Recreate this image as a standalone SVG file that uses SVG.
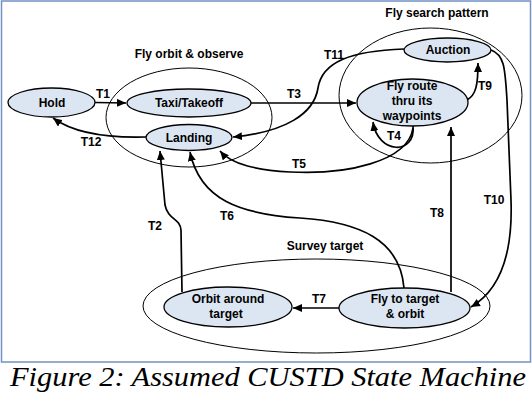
<svg xmlns="http://www.w3.org/2000/svg" width="532" height="400" viewBox="0 0 532 400">
<style>
.st{fill:#dce6f2;stroke:#000;stroke-width:1.3}
.grp{fill:none;stroke:#000;stroke-width:1}
.lbl{font-family:"Liberation Sans",Arial,sans-serif;font-weight:bold;font-size:12px;fill:#000;text-anchor:middle}
.c{fill:none;stroke:#000;stroke-width:1.7;marker-end:url(#ah)}
</style>
<defs>
<marker id="ah" markerUnits="userSpaceOnUse" markerWidth="10" markerHeight="8" refX="9" refY="4" orient="auto">
<path d="M0,0 L9,4 L0,8 Z" fill="#000"/>
</marker>
</defs>
<rect x="1.5" y="1" width="529" height="361" fill="#fff" stroke="#7391c3" stroke-width="1.5"/>

<g id="group-orbit">
<ellipse class="grp" cx="189" cy="117.5" rx="83" ry="49.5"/>
<text class="lbl" x="189" y="58">Fly orbit &amp; observe</text>
</g>
<g id="group-search">
<ellipse class="grp" cx="430.5" cy="95.5" rx="91.5" ry="67.5"/>
<text class="lbl" x="437" y="17">Fly search pattern</text>
</g>
<g id="group-survey">
<ellipse class="grp" cx="316.5" cy="306" rx="173.5" ry="47"/>
<text class="lbl" x="325" y="250">Survey target</text>
</g>

<g id="connectors">
<path class="c" d="M95,102.5 L126,103"/>
<path class="c" d="M251,103 L356,103"/>
<path class="c" d="M146,137 C110,138 75,134 53,118"/>
<path class="c" d="M404,49 C350,51 322,62 318,88 C314,114 285,132 233,137"/>
<path class="c" d="M413,126 C416,155 378,155 373,122"/>
<path class="c" d="M413,128 C408,162 345,175 290,172 C258,170 232,165 220,151"/>
<path class="c" d="M467,100 C476,95 478,85 478,63"/>
<path class="c" d="M491,50 C505,55 505,70 507,100 L511,200 C513,255 500,290 471,307"/>
<path class="c" d="M451,292 L451,127"/>
<path class="c" d="M339,308 L293,308"/>
<path class="c" d="M404,288 C400,240 360,222 300,218 C240,214 200,200 190,152"/>
<path class="c" d="M182,292 L181,230 C180,218 168,220 165,205 L160,151"/>
<text class="lbl" x="103" y="98">T1</text>
<text class="lbl" x="294" y="98">T3</text>
<text class="lbl" x="91" y="146">T12</text>
<text class="lbl" x="334" y="59">T11</text>
<text class="lbl" x="394" y="140">T4</text>
<text class="lbl" x="299" y="168">T5</text>
<text class="lbl" x="485" y="90">T9</text>
<text class="lbl" x="494" y="204">T10</text>
<text class="lbl" x="437" y="217">T8</text>
<text class="lbl" x="319" y="303">T7</text>
<text class="lbl" x="227" y="220">T6</text>
<text class="lbl" x="155" y="230">T2</text>
</g>

<g id="hold">
<ellipse class="st" cx="51.5" cy="102.5" rx="43.5" ry="14.5"/>
<text class="lbl" x="52" y="107">Hold</text>
</g>
<g id="taxi">
<ellipse class="st" cx="189" cy="103" rx="62" ry="14"/>
<text class="lbl" x="189" y="107">Taxi/Takeoff</text>
</g>
<g id="landing">
<ellipse class="st" cx="189" cy="137.5" rx="43" ry="13"/>
<text class="lbl" x="189" y="142">Landing</text>
</g>
<g id="auction">
<ellipse class="st" cx="447.5" cy="50" rx="43.5" ry="12"/>
<text class="lbl" x="448" y="54">Auction</text>
</g>
<g id="flyroute">
<ellipse class="st" cx="412.5" cy="102.5" rx="55.5" ry="23.5"/>
<text class="lbl" x="412" y="90">Fly route</text>
<text class="lbl" x="412" y="105">thru its</text>
<text class="lbl" x="412" y="120">waypoints</text>
</g>
<g id="orbit">
<ellipse class="st" cx="228" cy="307" rx="64" ry="20"/>
<text class="lbl" x="228" y="303">Orbit around</text>
<text class="lbl" x="226" y="318">target</text>
</g>
<g id="flytarget">
<ellipse class="st" cx="404.5" cy="308" rx="65.5" ry="20"/>
<text class="lbl" x="405" y="303">Fly to target</text>
<text class="lbl" x="405" y="318">&amp; orbit</text>
</g>

<text x="10" y="386" font-family="Liberation Serif, Times New Roman, serif" font-style="italic" font-size="28" fill="#000" textLength="516" lengthAdjust="spacingAndGlyphs">Figure 2: Assumed CUSTD State Machine</text>
</svg>
